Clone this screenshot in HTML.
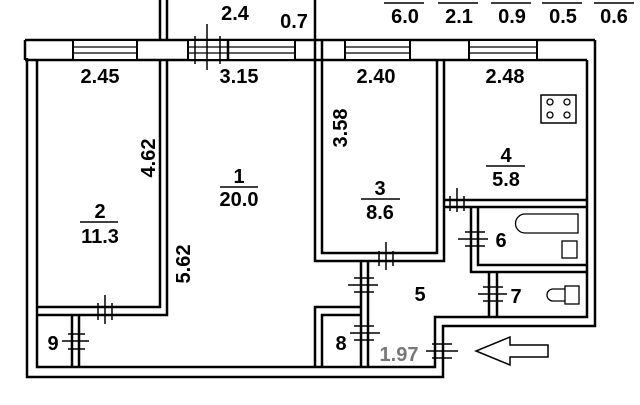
<!DOCTYPE html>
<html><head><meta charset="utf-8"><style>
html,body{margin:0;padding:0;background:#fff}
svg{display:block}
text{font-family:"Liberation Sans",Arial,sans-serif;font-weight:bold;font-size:20px;fill:#000}
</style></head><body>
<svg width="640" height="405" viewBox="0 0 640 405" xmlns="http://www.w3.org/2000/svg">
<g fill="none" stroke="#000" stroke-width="2.5">
<line x1="25" y1="40" x2="595" y2="40"/>
<line x1="25" y1="60" x2="587" y2="60"/>
<line x1="25" y1="40" x2="25" y2="60"/>
<polyline points="27,58 27,377 443,377 443,326 595,326 595,40"/>
<polyline points="37,60 37,367 435,367 435,317 587,317 587,60"/>
<line x1="160" y1="0" x2="160" y2="40"/>
<line x1="167" y1="0" x2="167" y2="40"/>
<line x1="315" y1="0" x2="315" y2="60"/>
<line x1="322" y1="40" x2="322" y2="60"/>
<polyline points="160,60 160,307 37,307"/>
<polyline points="167,60 167,315 37,315"/>
<line x1="72" y1="315" x2="72" y2="367"/>
<line x1="79" y1="315" x2="79" y2="367"/>
<polyline points="315,60 315,261 444,261 444,60"/>
<polyline points="322,60 322,253 437,253 437,60"/>
<line x1="444" y1="200" x2="587" y2="200"/>
<line x1="444" y1="207" x2="587" y2="207"/>
<polyline points="471,207 471,272 587,272"/>
<polyline points="478,207 478,265 587,265"/>
<line x1="489" y1="272" x2="489" y2="317"/>
<line x1="497" y1="272" x2="497" y2="317"/>
<line x1="361" y1="261" x2="361" y2="367"/>
<line x1="368" y1="261" x2="368" y2="367"/>
<polyline points="315,367 315,307 361,307"/>
<polyline points="322,367 322,315 361,315"/>
</g>
<g fill="#fff" stroke="#000" stroke-width="2">
<rect x="73" y="40" width="64" height="20"/>
<rect x="188" y="40" width="107" height="20"/>
<rect x="345" y="40" width="65" height="20"/>
<rect x="469" y="40" width="68" height="20"/>
</g>
<g stroke="#000" stroke-width="1.2">
<line x1="73" y1="47" x2="137" y2="47"/><line x1="73" y1="53" x2="137" y2="53"/>
<line x1="188" y1="47" x2="295" y2="47"/><line x1="188" y1="53" x2="295" y2="53"/>
<line x1="345" y1="47" x2="410" y2="47"/><line x1="345" y1="53" x2="410" y2="53"/>
<line x1="469" y1="47" x2="537" y2="47"/><line x1="469" y1="53" x2="537" y2="53"/>
<line x1="228" y1="40" x2="228" y2="60" stroke-width="2.5"/>
</g>
<g stroke="#000" stroke-width="1.5">
<line x1="195" y1="36" x2="195" y2="64"/><line x1="220" y1="36" x2="220" y2="64"/><line x1="207" y1="24" x2="207" y2="70"/>
<line x1="98" y1="303" x2="98" y2="320"/><line x1="105" y1="295" x2="105" y2="324"/><line x1="112" y1="303" x2="112" y2="320"/>
<line x1="62" y1="341" x2="89" y2="341"/><line x1="68" y1="334" x2="85" y2="334"/><line x1="68" y1="349" x2="85" y2="349"/>
<line x1="379" y1="251" x2="379" y2="266"/><line x1="386" y1="242" x2="386" y2="270"/><line x1="393" y1="251" x2="393" y2="266"/>
<line x1="450" y1="196" x2="450" y2="211"/><line x1="457" y1="188" x2="457" y2="212"/><line x1="464" y1="196" x2="464" y2="211"/>
<line x1="458" y1="239" x2="488" y2="239"/><line x1="465" y1="232" x2="485" y2="232"/><line x1="465" y1="246" x2="485" y2="246"/>
<line x1="478" y1="294" x2="507" y2="294"/><line x1="483" y1="287" x2="503" y2="287"/><line x1="483" y1="301" x2="503" y2="301"/>
<line x1="348" y1="285" x2="378" y2="285"/><line x1="354" y1="278" x2="374" y2="278"/><line x1="354" y1="292" x2="374" y2="292"/>
<line x1="350" y1="333" x2="380" y2="333"/><line x1="354" y1="326" x2="374" y2="326"/><line x1="354" y1="340" x2="374" y2="340"/>
<line x1="426" y1="351" x2="458" y2="351"/><line x1="432" y1="344" x2="452" y2="344"/><line x1="432" y1="358" x2="452" y2="358"/>
</g>
<rect x="541" y="95" width="35" height="28" fill="none" stroke="#000" stroke-width="1.5"/>
<g fill="none" stroke="#000" stroke-width="1.3">
<circle cx="550" cy="102" r="3"/><circle cx="567" cy="102" r="3"/><circle cx="550" cy="115" r="3"/><circle cx="567" cy="115" r="3"/>
<path d="M525,214 H578 V233 H525 A9,9 0 0 1 525,214 Z"/>
<rect x="562" y="241" width="15" height="17"/>
<rect x="565" y="286" width="14" height="18"/>
<path d="M565,289 H553 A6,6 0 0 0 553,301 H565"/>
<path d="M548,345 H510 V337 L476,351 L510,365 V357 H548 Z" stroke-width="1.5"/>
</g>
<g stroke="#000" stroke-width="1.5">
<line x1="220" y1="187" x2="258" y2="187"/>
<line x1="80" y1="222" x2="118" y2="222"/>
<line x1="361" y1="199" x2="400" y2="199"/>
<line x1="486" y1="166" x2="525" y2="166"/>
<line x1="384" y1="3" x2="424" y2="3"/><line x1="438" y1="3" x2="478" y2="3"/><line x1="491" y1="3" x2="531" y2="3"/><line x1="542" y1="3" x2="582" y2="3"/><line x1="594" y1="3" x2="634" y2="3"/>
</g>
<text x="235" y="20" text-anchor="middle">2.4</text>
<text x="294" y="28" text-anchor="middle">0.7</text>
<text x="405" y="23" text-anchor="middle">6.0</text>
<text x="459" y="23" text-anchor="middle">2.1</text>
<text x="512" y="23" text-anchor="middle">0.9</text>
<text x="563" y="23" text-anchor="middle">0.5</text>
<text x="614" y="23" text-anchor="middle">0.6</text>
<text x="100" y="83" text-anchor="middle">2.45</text>
<text x="239" y="83" text-anchor="middle">3.15</text>
<text x="376" y="83" text-anchor="middle">2.40</text>
<text x="505" y="83" text-anchor="middle">2.48</text>
<text transform="translate(155,158) rotate(-90)" text-anchor="middle">4.62</text>
<text transform="translate(190,264) rotate(-90)" text-anchor="middle">5.62</text>
<text transform="translate(347,128) rotate(-90)" text-anchor="middle">3.58</text>
<text x="239" y="183" text-anchor="middle">1</text>
<text x="239" y="206" text-anchor="middle">20.0</text>
<text x="100" y="218" text-anchor="middle">2</text>
<text x="100" y="243" text-anchor="middle">11.3</text>
<text x="380" y="195" text-anchor="middle">3</text>
<text x="380" y="219" text-anchor="middle">8.6</text>
<text x="506" y="162" text-anchor="middle">4</text>
<text x="506" y="186" text-anchor="middle">5.8</text>
<text x="501" y="247" text-anchor="middle">6</text>
<text x="420" y="301" text-anchor="middle">5</text>
<text x="516" y="303" text-anchor="middle">7</text>
<text x="341" y="350" text-anchor="middle">8</text>
<text x="53" y="350" text-anchor="middle">9</text>
<text x="399" y="361" text-anchor="middle" style="fill:#777">1.97</text>
</svg>
</body></html>
